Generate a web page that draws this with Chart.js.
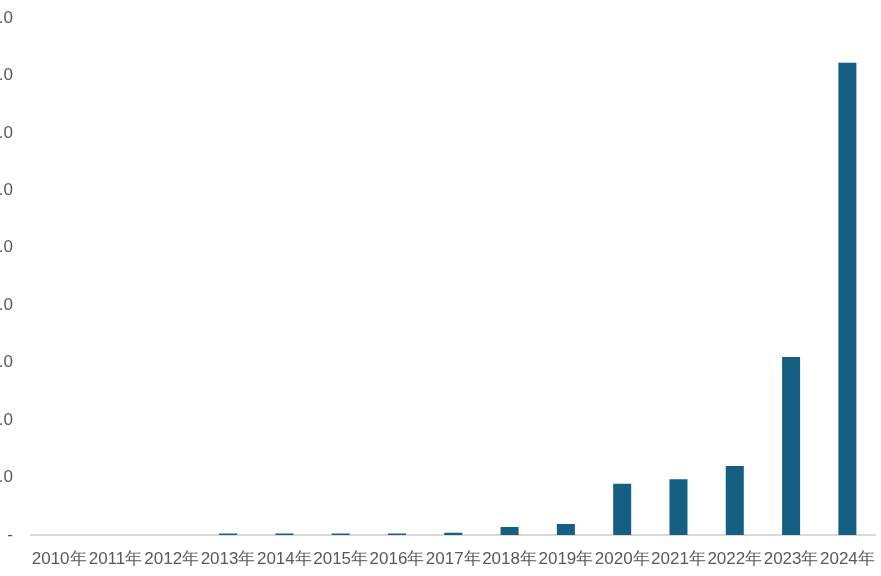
<!DOCTYPE html>
<html>
<head>
<meta charset="utf-8">
<script src="https://cdn.jsdelivr.net/npm/chart.js@4.4.1/dist/chart.umd.min.js"></script>
<style>
html,body{margin:0;padding:0;background:#fff;overflow:hidden;width:881px;height:576px;}
#wrap{position:absolute;left:-30px;top:0;width:919px;height:576px;}
</style>
</head>
<body>
<div id="wrap"><canvas id="c" width="919" height="576"></canvas></div>
<script>
const categories = ['2010年','2011年','2012年','2013年','2014年','2015年','2016年','2017年','2018年','2019年','2020年','2021年','2022年','2023年','2024年'];
const values = [0, 0, 0, 0.025, 0.025, 0.025, 0.025, 0.04, 0.14, 0.19, 0.89, 0.97, 1.2, 3.1, 8.22];
const yTicks = [0, 1, 2, 3, 4, 5, 6, 7, 8, 9];

const FONT = '"Liberation Sans", Arial, sans-serif';
new Chart(document.getElementById('c'), {
  type: 'bar',
  data: {
    labels: categories,
    datasets: [{
      data: values,
      backgroundColor: '#156082',
      borderWidth: 0,
      categoryPercentage: 1.0,
      barPercentage: 0.32
    }]
  },
  options: {
    responsive: false,
    animation: false,
    devicePixelRatio: 1,
    layout: { padding: { top: 18, right: 6, bottom: 0, left: 0 } },
    plugins: { legend: { display: false }, tooltip: { enabled: false }, title: { display: false } },
    scales: {
      x: {
        grid: { display: false, drawTicks: false },
        border: { display: true, color: '#D9D9D9', width: 2 },
        ticks: {
          color: '#595959',
          font: { family: FONT, size: 17 },
          padding: 14,
          maxRotation: 0,
          minRotation: 0,
          autoSkip: false
        },
        afterFit: (s) => { s.height = 41; }
      },
      y: {
        min: 0,
        max: 9,
        afterBuildTicks: (s) => { s.ticks = yTicks.map(v => ({ value: v })); },
        grid: { display: false, drawTicks: false },
        border: { display: false },
        ticks: {
          color: '#595959',
          font: { family: FONT, size: 17 },
          padding: 18,
          callback: (v) => v === 0 ? '-' : Number(v).toFixed(1)
        },
        afterFit: (s) => { s.width = 61; s.paddingTop = 0; s.paddingBottom = 0; }
      }
    }
  }
});
</script>
</body>
</html>
